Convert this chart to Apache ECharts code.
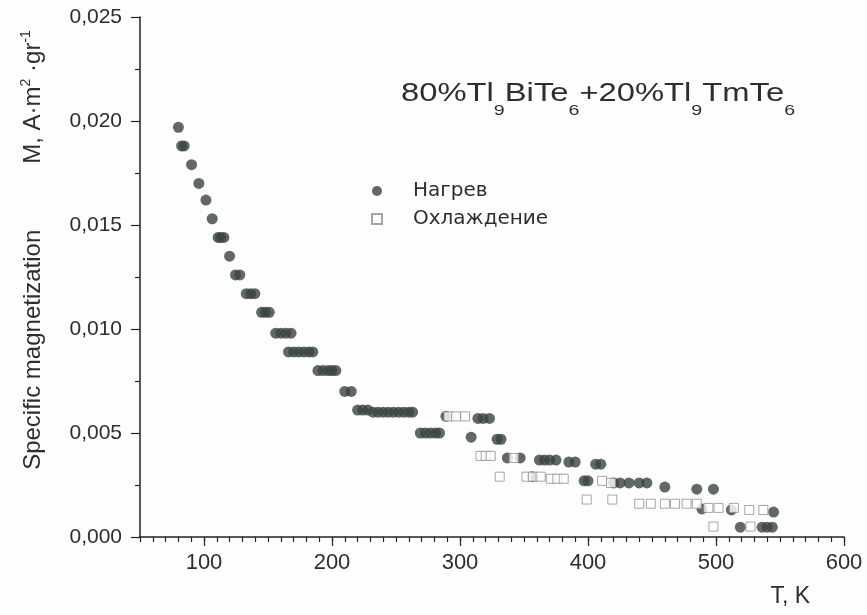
<!DOCTYPE html>
<html><head><meta charset="utf-8">
<script src="https://cdn.jsdelivr.net/npm/echarts@6/dist/echarts.min.js"></script>
<style>html,body{margin:0;padding:0;background:#fff}#c{width:867px;height:615px}</style>
</head><body><div id="c"></div>
<script>
// Heating (Нагрев) – temperature, K
const heatT = [80, 82.5, 84.5, 90.3, 96, 101.5, 106.4, 111, 113, 115.5, 120, 124.6, 128,
  133, 136.5, 139.7, 145, 148, 151, 156, 160, 164, 168, 166, 170, 174, 178, 182, 185,
  189, 193, 197, 200, 203, 210, 215, 220, 224, 228, 232, 236, 240, 244, 248, 252, 256, 260, 263,
  269, 273, 277, 281, 284, 289, 308.7, 314, 318, 323, 329, 332, 337, 347, 356.5,
  362, 366, 370, 375, 385, 390, 397, 400, 406, 410, 420, 425, 432, 440, 446, 460, 485, 498,
  489, 512, 545, 519, 536, 540, 544];
// Heating – specific magnetization, A·m²·gr⁻¹
const heatM = [0.0197, 0.0188, 0.0188, 0.0179, 0.0170, 0.0162, 0.0153, 0.0144, 0.0144, 0.0144, 0.0135, 0.0126, 0.0126,
  0.0117, 0.0117, 0.0117, 0.0108, 0.0108, 0.0108, 0.0098, 0.0098, 0.0098, 0.0098, 0.0089, 0.0089, 0.0089, 0.0089, 0.0089, 0.0089,
  0.0080, 0.0080, 0.0080, 0.0080, 0.0080, 0.0070, 0.0070, 0.0061, 0.0061, 0.0061, 0.0060, 0.0060, 0.0060, 0.0060, 0.0060, 0.0060, 0.0060, 0.0060, 0.0060,
  0.0050, 0.0050, 0.0050, 0.0050, 0.0050, 0.0058, 0.0048, 0.0057, 0.0057, 0.0057, 0.0047, 0.0047, 0.0038, 0.0038, 0.0029,
  0.0037, 0.0037, 0.0037, 0.0037, 0.0036, 0.0036, 0.0027, 0.0027, 0.0035, 0.0035, 0.0026, 0.0026, 0.0026, 0.0026, 0.0026, 0.0024, 0.0023, 0.0023,
  0.00135, 0.0013, 0.0012, 0.00047, 0.00047, 0.00047, 0.00047];
// Cooling (Охлаждение)
const coolT = [291, 297, 304, 316, 320, 324, 342, 331, 352, 357, 363, 371, 376, 381, 411, 418,
  399, 419, 440, 449, 460, 468, 477, 485, 494, 502, 514, 526, 537, 498, 527];
const coolM = [0.0058, 0.0058, 0.0058, 0.0039, 0.0039, 0.0039, 0.0038, 0.0029, 0.0029, 0.0029, 0.0029, 0.0028, 0.0028, 0.0028, 0.0027, 0.0026,
  0.0018, 0.0018, 0.0016, 0.0016, 0.0016, 0.0016, 0.0016, 0.0016, 0.0014, 0.0014, 0.0014, 0.0013, 0.0013, 0.0005, 0.0005];

const xTicks = [100, 200, 300, 400, 500, 600];
const yTicks = ['0,000', '0,005', '0,010', '0,015', '0,020', '0,025'];
const seriesNames = ['Нагрев', 'Охлаждение'];
const chartTitle = '{n|80%Tl}{s|9}{n|BiTe}{s|6}{n|+20%Tl}{s|9}{n|TmTe}{s|6}';

const FONT = 'Liberation Sans, Arial, sans-serif';
const INK = '#2e2e2e';

const chart = echarts.init(document.getElementById('c'));
const heatData = heatT.map((t, i) => [t, heatM[i]]);
const coolData = coolT.map((t, i) => [t, coolM[i]]);

chart.setOption({
  backgroundColor: '#fdfdfd',
  animation: false,
  grid: { left: 140, right: 23, top: 17, bottom: 78 },
  legend: {
    orient: 'vertical', left: 366, top: 176, itemWidth: 10, itemHeight: 10, itemGap: 8,
    selectedMode: false,
    data: seriesNames,
    textStyle: { fontFamily: 'DejaVu Sans', fontSize: 20, color: INK, lineHeight: 20, padding: [0, 0, 0, 26] }
  },
  graphic: [{
    type: 'text', x: 401, y: 82, scaleX: 1.31, silent: true,
    style: {
      text: chartTitle, fill: INK,
      rich: {
        n: { fontFamily: FONT, fontSize: 25, lineHeight: 26, verticalAlign: 'top', fill: INK },
        s: { fontFamily: FONT, fontSize: 15, lineHeight: 15, padding: [21, 0, 0, 0], verticalAlign: 'top', fill: INK }
      }
    }
  }],
  xAxis: [{
    type: 'value', min: 50, max: 600, interval: 10, position: 'bottom',
    axisLine: { show: true, lineStyle: { color: '#222', width: 1.5 } },
    axisTick: { show: true, length: 5, lineStyle: { color: '#222', width: 1.2 } },
    axisLabel: { customValues: xTicks, fontFamily: FONT, fontSize: 22, color: INK, margin: 15 },
    splitLine: { show: false },
    name: 'T, K', nameLocation: 'end', nameGap: 0,
    nameTextStyle: { fontFamily: FONT, fontSize: 23, color: INK, align: 'right', verticalAlign: 'top', padding: [48, 34, 0, 0] }
  }, {
    type: 'value', min: 50, max: 600, interval: 50, position: 'bottom',
    axisLine: { show: false },
    axisTick: { show: true, customValues: xTicks, length: 9, lineStyle: { color: '#222', width: 1.2 } },
    axisLabel: { show: false },
    splitLine: { show: false }
  }],
  yAxis: {
    type: 'value', min: 0, max: 0.025, interval: 0.005,
    axisLine: { show: true, lineStyle: { color: '#222', width: 1.5 } },
    axisTick: { show: true, length: 9, lineStyle: { color: '#222', width: 1.2 } },
    minorTick: { show: true, splitNumber: 2, length: 5, lineStyle: { color: '#222', width: 1.2 } },
    axisLabel: { fontFamily: FONT, fontSize: 21, color: INK, margin: 18,
      formatter: (v) => yTicks[Math.round(v / 0.005)] },
    splitLine: { show: false },
    name: '{t|Specific magnetization}{g|}{t|M, A·m}{p|2}{t| ·gr}{p|-1}',
    nameLocation: 'middle', nameRotate: 90, nameGap: 93,
    nameTextStyle: {
      padding: [0, 0, 0, 54],
      rich: {
        t: { fontFamily: FONT, fontSize: 24, color: INK, lineHeight: 28, verticalAlign: 'middle' },
        g: { width: 66 },
        p: { fontFamily: FONT, fontSize: 14, color: INK, lineHeight: 14, verticalAlign: 'top' }
      }
    }
  },
  series: [{
    name: seriesNames[0], type: 'scatter', data: heatData, xAxisIndex: 0,
    symbol: 'circle', symbolSize: 11,
    itemStyle: { color: '#3a4442' }
  }, {
    name: seriesNames[1], type: 'scatter', data: coolData, xAxisIndex: 0,
    symbol: 'rect', symbolSize: 9,
    itemStyle: { color: '#ffffff', borderColor: '#8e8e8e', borderWidth: 1 }
  }]
});
</script>
</body></html>
